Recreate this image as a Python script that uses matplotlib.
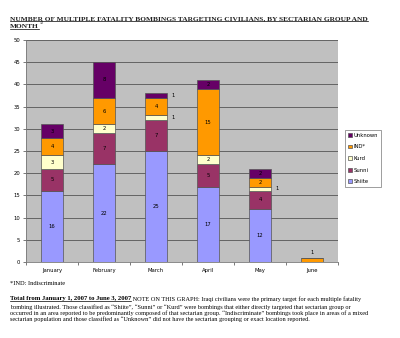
import matplotlib
matplotlib.use("Agg")
import matplotlib.pyplot as plt
import numpy as np
from matplotlib.lines import Line2D

months = ["January", "February", "March", "April", "May", "June"]
series_names = ["Shiite", "Sunni", "Kurd", "IND*", "Unknown"]
shiite = [16, 22, 25, 17, 12, 0]
sunni = [5, 7, 7, 5, 4, 0]
kurd = [3, 2, 1, 2, 1, 0]
ind = [4, 6, 4, 15, 2, 1]
unknown = [3, 8, 1, 2, 2, 0]
colors = ["#9999FF", "#993366", "#FFFFCC", "#FF9900", "#660066"]

title_line1 = "NUMBER OF MULTIPLE FATALITY BOMBINGS TARGETING CIVILIANS, BY SECTARIAN GROUP AND"
title_line2 = "MONTH"
foot1 = "*IND: Indiscriminate"
note_bold = "Total from January 1, 2007 to June 3, 2007"
note_first = " NOTE ON THIS GRAPH: Iraqi civilians were the primary target for each multiple fatality"
note_rest = ("bombing illustrated. Those classified as \u201cShiite\u201d, \u201cSunni\u201d or \u201cKurd\u201d were bombings that either directly targeted that sectarian group or\n"
             "occurred in an area reported to be predominantly composed of that sectarian group. \u201cIndiscriminate\u201d bombings took place in areas of a mixed\n"
             "sectarian population and those classified as \u201cUnknown\u201d did not have the sectarian grouping or exact location reported.")

W, H = 400, 338
fig = plt.figure(figsize=(W / 100, H / 100), dpi=100)
fig.patch.set_facecolor("white")
ax = fig.add_axes([26 / W, 1 - 262 / H, (338 - 26) / W, (262 - 40) / H])
ax.set_facecolor("#C0C0C0")

data = [shiite, sunni, kurd, ind, unknown]
x = np.arange(len(months))
bottom = np.zeros(len(months))
for vals, c, name in zip(data, colors, series_names):
    vals = np.array(vals, dtype=float)
    ax.bar(x, vals, 0.41, bottom=bottom, color=c, edgecolor="#555555", linewidth=0.5,
           label=name, zorder=3)
    for xi, v, b in zip(x, vals, bottom):
        if v <= 0:
            continue
        if v == 1 and months[xi] != "June":
            ax.text(xi + 0.32, b + v / 2, f"{int(v)}", ha="center", va="center", fontsize=3.8, zorder=4)
        elif v == 1 and months[xi] == "June":
            ax.text(xi, b + v + 1.2, f"{int(v)}", ha="center", va="center", fontsize=3.8, zorder=4)
        else:
            ax.text(xi, b + v / 2, f"{int(v)}", ha="center", va="center", fontsize=3.8, zorder=4)
    bottom += vals

ax.set_xlim(-0.5, len(months) - 0.5)
ax.set_ylim(0, 50)
ax.set_yticks(np.arange(0, 51, 5))
ax.set_xticks(x)
ax.set_xticklabels(months)
ax.tick_params(axis="both", labelsize=3.8, length=2, width=0.5, color="#444444", pad=2)
ax.tick_params(axis="x", length=0, pad=4)
ax.set_xticks(np.arange(-0.5, len(months), 1), minor=True)
ax.tick_params(axis="x", which="minor", length=2, width=0.5, color="#444444")
ax.grid(axis="y", color="#555555", linewidth=0.6, zorder=1)
for s in ["top", "right"]:
    ax.spines[s].set_visible(False)
ax.spines["left"].set_color("#777777")
ax.spines["bottom"].set_color("#777777")
ax.spines["left"].set_linewidth(0.6)
ax.spines["bottom"].set_linewidth(0.6)

handles, labels = ax.get_legend_handles_labels()
leg = fig.legend(handles[::-1], labels[::-1], loc="upper left",
                 bbox_to_anchor=(342 / W, 1 - 127 / H), fontsize=3.8, frameon=True,
                 fancybox=False, edgecolor="#555555", handlelength=0.7, handleheight=0.7,
                 handletextpad=0.4, labelspacing=1.25, borderpad=0.6)
leg.get_frame().set_linewidth(0.5)

# title
tkw = dict(family="Liberation Serif", fontweight="bold", fontsize=5.3, va="baseline",
           ha="left", color="#222222")
t1 = fig.text(10 / W, 1 - 20 / H, title_line1, **tkw)
t2 = fig.text(10 / W, 1 - 27.5 / H, title_line2, **tkw)

fig.text(10 / W, 1 - 281 / H, foot1, family="Liberation Serif", fontsize=4.6, va="top", ha="left")
tb = fig.text(10 / W, 1 - 296 / H, note_bold, family="Liberation Serif", fontweight="bold",
              fontsize=4.75, va="top", ha="left")

fig.canvas.draw()
r = fig.canvas.get_renderer()
b2 = t2.get_window_extent(r)
fig.text((b2.x1 + 0.8) / W, 1 - 23.5 / H, "12", family="Liberation Serif", fontsize=3,
         va="baseline", ha="left")
bb = tb.get_window_extent(r)
fig.text(bb.x1 / W, 1 - 296 / H, note_first, family="Liberation Serif",
         fontsize=4.5, va="top", ha="left")
fig.text(10 / W, 1 - 304 / H, note_rest, family="Liberation Serif",
         fontsize=4.5, va="top", ha="left", linespacing=1.12)
# underlines
fig.add_artist(Line2D([bb.x0 / W, bb.x1 / W], [(bb.y0 - 0.3) / H] * 2, color="black", linewidth=0.5))
b1 = t1.get_window_extent(r)
fig.add_artist(Line2D([10 / W, b1.x1 / W], [(1 - 21 / H)] * 2, color="black", linewidth=0.5))
fig.add_artist(Line2D([10 / W, b2.x1 / W], [(1 - 28.5 / H)] * 2, color="black", linewidth=0.5))

fig.savefig("out.png", dpi=100)
